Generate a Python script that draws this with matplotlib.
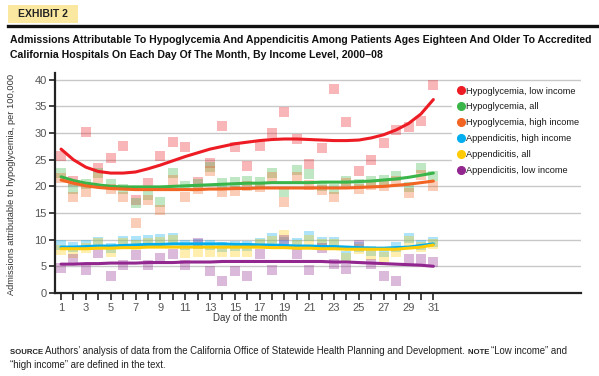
import numpy as np
import matplotlib
matplotlib.use("Agg")
import matplotlib.pyplot as plt
from matplotlib.lines import Line2D
from matplotlib.patches import Rectangle

days = list(range(1, 32))

# hypoglycemia admissions per 100,000 (daily values)
hypo_low = [25.7, 21.0, 30.2, 23.4, 25.3, 27.6, 17.5, 20.6, 25.7, 28.3, 27.4,
            20.8, 24.4, 31.3, 27.4, 23.8, 27.6, 30.0, 34.0, 28.9, 24.2, 27.2,
            38.3, 32.0, 22.9, 25.0, 28.1, 30.6, 31.1, 32.3, 39.0]
hypo_all = [22.5, 19.5, 20.5, 22.5, 20.5, 19.5, 16.9, 18.4, 17.1, 22.5, 20.0,
            20.5, 23.6, 20.6, 20.8, 21.0, 20.8, 22.5, 19.0, 23.0, 22.3, 20.0,
            19.5, 21.0, 20.5, 21.0, 21.2, 21.9, 19.8, 23.4, 21.9]
hypo_high = [21.5, 18.0, 19.0, 21.6, 19.5, 18.0, 13.1, 17.4, 15.6, 21.2, 18.0,
             19.5, 22.9, 19.0, 19.1, 20.0, 19.9, 21.8, 17.0, 21.8, 20.3, 19.3,
             18.0, 20.6, 19.5, 20.2, 20.0, 21.0, 18.8, 22.1, 20.0]

# appendicitis admissions per 100,000 (daily values)
app_high = [9.0, 8.6, 9.0, 9.6, 8.4, 9.8, 9.8, 10.0, 10.1, 10.3, 9.0,
            9.2, 9.0, 8.6, 8.8, 8.8, 9.4, 10.3, 9.6, 9.4, 10.7, 9.5,
            9.6, 6.9, 8.6, 7.9, 7.6, 8.6, 10.3, 9.0, 9.6]
app_all = [8.1, 7.5, 8.4, 9.4, 7.7, 9.4, 9.0, 9.4, 9.6, 9.9, 7.5,
           7.7, 7.7, 7.7, 7.7, 7.7, 9.2, 9.8, 10.8, 9.0, 9.9, 9.2,
           9.2, 6.6, 8.3, 7.1, 6.8, 7.7, 9.8, 8.6, 9.2]
app_low = [4.7, 6.4, 4.3, 7.5, 3.2, 5.3, 7.1, 5.3, 6.6, 7.3, 5.3,
           9.4, 4.1, 2.3, 4.1, 3.2, 7.3, 4.3, 10.0, 7.3, 4.3, 8.5,
           5.4, 4.5, 9.0, 5.4, 3.2, 2.3, 6.4, 6.4, 5.8]

# smoothed trends for each day
trend_hypo_low = [27.0, 25.0, 23.6, 22.8, 22.5, 22.5, 22.7, 23.3, 24.0, 24.8, 25.6,
                  26.3, 27.0, 27.5, 28.0, 28.3, 28.6, 28.8, 28.9, 28.9, 28.8, 28.7,
                  28.6, 28.6, 28.7, 29.1, 29.7, 30.6, 31.8, 33.6, 36.3]
trend_hypo_all = [21.8, 21.1, 20.6, 20.3, 20.0, 19.9, 19.9, 19.9, 19.9, 20.0, 20.1,
                  20.2, 20.3, 20.4, 20.5, 20.6, 20.6, 20.7, 20.7, 20.7, 20.7, 20.8,
                  20.8, 20.8, 20.9, 21.0, 21.2, 21.4, 21.7, 22.1, 22.5]
trend_hypo_high = [21.2, 20.6, 20.1, 19.8, 19.6, 19.5, 19.4, 19.4, 19.4, 19.4, 19.4,
                   19.4, 19.5, 19.5, 19.6, 19.6, 19.7, 19.7, 19.7, 19.7, 19.7, 19.7,
                   19.7, 19.7, 19.8, 19.9, 20.0, 20.2, 20.4, 20.7, 21.0]
trend_app_high = [8.6, 8.6, 8.7, 8.8, 8.8, 8.9, 9.0, 9.1, 9.1, 9.2, 9.2,
                  9.2, 9.2, 9.2, 9.1, 9.1, 9.0, 9.0, 8.9, 8.8, 8.8, 8.7,
                  8.7, 8.6, 8.5, 8.4, 8.4, 8.5, 8.6, 8.9, 9.2]
trend_app_all = [8.3, 8.3, 8.3, 8.4, 8.4, 8.5, 8.5, 8.6, 8.6, 8.6, 8.6,
                 8.6, 8.6, 8.6, 8.6, 8.6, 8.6, 8.5, 8.5, 8.4, 8.4, 8.3,
                 8.3, 8.2, 8.2, 8.2, 8.2, 8.2, 8.4, 8.6, 9.0]
trend_app_low = [5.4, 5.4, 5.5, 5.5, 5.6, 5.6, 5.6, 5.7, 5.7, 5.7, 5.8,
                 5.8, 5.8, 5.9, 5.9, 5.9, 5.9, 5.9, 5.9, 5.9, 5.9, 5.9,
                 5.8, 5.8, 5.7, 5.6, 5.5, 5.4, 5.3, 5.2, 5.0]

labels = ["Hypoglycemia, low income", "Hypoglycemia, all",
          "Hypoglycemia, high income", "Appendicitis, high income",
          "Appendicitis, all", "Appendicitis, low income"]
colors = ["#ed1c24", "#39b54a", "#f26522", "#00aeef", "#ffcb05", "#92278f"]
series = [hypo_low, hypo_all, hypo_high, app_high, app_all, app_low]
trends = [trend_hypo_low, trend_hypo_all, trend_hypo_high,
          trend_app_high, trend_app_all, trend_app_low]

FONT = ["Liberation Sans", "DejaVu Sans"]
plt.rcParams["font.family"] = FONT

fig = plt.figure(figsize=(5.99, 3.76), dpi=100)
ax = fig.add_axes([0.092, 0.221, 0.878, 0.585])
renderer = fig.canvas.get_renderer()


def fit_width(t, target_px):
    w = t.get_window_extent(renderer).width
    t.set_fontsize(t.get_fontsize() * target_px / w)
    return t


for vals, c in zip(series, colors):
    ax.scatter(days, vals, marker="s", s=44, color=c, alpha=0.32, lw=0, zorder=2)

for vals, c in zip(trends, colors):
    ax.plot(days, vals, color=c, lw=2.2, zorder=3, solid_capstyle="round",
            solid_joinstyle="round")

ax.set_xlim(0.52, 42.9)
ax.set_ylim(0, 41.3)
ax.set_yticks(range(0, 41, 5))
ax.set_xticks(range(1, 32, 2))
ax.set_xticks(range(1, 32), minor=True)
ax.yaxis.grid(True, color="#c8c8c8", lw=1.0)
ax.set_axisbelow(True)
for s in ["top", "right"]:
    ax.spines[s].set_visible(False)
for s in ["left", "bottom"]:
    ax.spines[s].set_linewidth(1.6)
    ax.spines[s].set_color("#222222")
ax.tick_params(axis="both", which="both", direction="out", color="#222222",
               width=1.2, labelsize=8, labelcolor="#555555")
ax.tick_params(axis="x", which="both", length=5, pad=2)
ax.tick_params(axis="y", length=4, pad=2)

handles = [Line2D([], [], marker="o", ls="", color=c, markersize=5.5)
           for c in colors]
leg = ax.legend(handles, labels, loc="upper left",
                bbox_to_anchor=(0.755, 0.955), frameon=True, handletextpad=0.05,
                handlelength=1.0, labelspacing=0.74, borderpad=0.4,
                borderaxespad=0, prop={"family": FONT, "size": 6.7})
leg.get_frame().set_facecolor("white")
leg.get_frame().set_edgecolor("white")
leg.get_frame().set_alpha(1)
leg.get_frame().set_boxstyle("square", pad=0)
for t in leg.get_texts():
    t.set_color("#1a1a1a")

yl = fig.text(12 / 599, 1 - 184 / 376, "Admissions attributable to hypoglycemia, per 100,000",
              rotation=90, ha="center", va="center", fontsize=7.5, color="#333333")
w = yl.get_window_extent(renderer).height
yl.set_fontsize(7.5 * 218 / w)
fig.text(250 / 599, 1 - 318 / 376, "Day of the month", ha="center", va="center",
         fontsize=7, color="#333333")

# header
fig.add_artist(Rectangle((8 / 599, 1 - 23 / 376), 70 / 599, 18 / 376,
                         transform=fig.transFigure, fc="#fbe8a0", ec="none"))
fig.text(43 / 599, 1 - 14 / 376, "EXHIBIT 2", ha="center", va="center",
         fontsize=7.5, fontweight="bold", color="#222222")
fig.add_artist(Line2D([8 / 599, 1.0], [1 - 25.5 / 376, 1 - 25.5 / 376],
                      color="#111111", lw=2.4))
t1 = fig.text(10 / 599, 1 - 40 / 376,
              "Admissions Attributable To Hypoglycemia And Appendicitis Among Patients "
              "Ages Eighteen And Older To Accredited", ha="left", va="center",
              fontsize=9, fontweight="bold", color="#111111")
fit_width(t1, 578)
fig.text(10 / 599, 1 - 55 / 376,
         "California Hospitals On Each Day Of The Month, By Income Level, 2000\u201308",
         ha="left", va="center", fontsize=t1.get_fontsize(), fontweight="bold",
         color="#111111")


def run_text(xpx, ypx, parts, scale=1.0):
    for txt, bold in parts:
        t = fig.text(xpx / 599, 1 - ypx / 376, txt, ha="left", va="baseline",
                     fontsize=(5.8 if bold else 7.2) * scale,
                     fontweight="bold" if bold else "normal", color="#222222")
        xpx += t.get_window_extent(renderer).width
    return xpx


line1 = [("SOURCE ", True),
         ("Authors\u2019 analysis of data from the California Office of Statewide "
          "Health Planning and Development. ", False),
         ("NOTE ", True), ("\u201cLow income\u201d and", False)]
# measure once, then place at the size that spans the reference width
probe = fig.text(0, 0, "".join(p[0] for p in line1), fontsize=7.2)
pw = probe.get_window_extent(renderer).width
probe.remove()
scale = 570 / pw
run_text(10, 354, line1, scale)
run_text(10, 368, [("\u201chigh income\u201d are defined in the text.", False)], scale)

fig.savefig("out.png", dpi=100)
